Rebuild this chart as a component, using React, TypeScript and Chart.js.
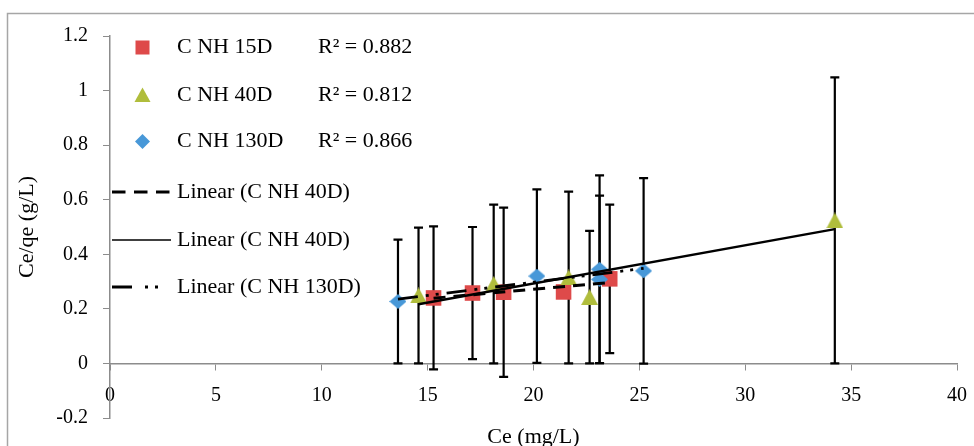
import React, { useEffect, useRef } from 'react';
import { Chart, registerables } from 'chart.js';

Chart.register(...registerables);

const FONT = '"Liberation Serif", "Times New Roman", serif';

// Axis ranges
const xMin = 0;
const xMax = 40;
const xStep = 5;
const yMin = -0.2;
const yMax = 1.2;
const yStep = 0.2;

const xTitle = 'Ce (mg/L)';
const yTitle = 'Ce/qe (g/L)';

// Series labels and fit statistics
const seriesNames = ['C NH 15D', 'C NH 40D', 'C NH 130D'];
const rSquared = ['0.882', '0.812', '0.866'];
const trendNames = ['Linear (C NH 40D)', 'Linear (C NH 40D)', 'Linear (C NH 130D)'];

// C NH 15D
const ce15 = [15.28, 17.12, 18.59, 21.42, 23.6];
const ratio15 = [0.24, 0.258, 0.261, 0.262, 0.31];
const err15 = [0.262, 0.242, 0.31, 0, 0.272];

// C NH 40D
const ce40 = [14.57, 18.12, 21.66, 22.65, 34.23];
const ratio40 = [0.249, 0.291, 0.315, 0.243, 0.524];
const err40 = [0.249, 0.291, 0.315, 0.243, 0.524];

// C NH 130D
const ce130 = [13.6, 20.16, 23.12, 23.12, 25.2];
const ratio130 = [0.227, 0.32, 0.345, 0.308, 0.339];
const err130 = [0.227, 0.318, 0.344, 0.307, 0.34];

const RED = '#de4a4a';
const OLIVE = '#b0bd3c';
const BLUE = '#4898d8';
const AXIS = '#8c8c8c';

const DASH = [12, 8];
const DASH_DOT_DOT = [20, 8, 3, 7, 3, 8];

type Pt = { x: number; y: number };

const toPoints = (xs: number[], ys: number[]): Pt[] => xs.map((x, i) => ({ x, y: ys[i] }));

// Least-squares line over the x-range of a series
function linearFit(xs: number[], ys: number[]): Pt[] {
  const n = xs.length;
  const mx = xs.reduce((a, b) => a + b, 0) / n;
  const my = ys.reduce((a, b) => a + b, 0) / n;
  let sxx = 0;
  let sxy = 0;
  for (let i = 0; i < n; i++) {
    sxx += (xs[i] - mx) * (xs[i] - mx);
    sxy += (xs[i] - mx) * (ys[i] - my);
  }
  const slope = sxy / sxx;
  const icpt = my - slope * mx;
  const lo = Math.min(...xs);
  const hi = Math.max(...xs);
  return [
    { x: lo, y: icpt + slope * lo },
    { x: hi, y: icpt + slope * hi },
  ];
}

// Marker sprites centred on their data point
function makeMarker(kind: 'triangle' | 'diamond', w: number, h: number, color: string) {
  const c = document.createElement('canvas');
  c.width = w;
  c.height = h;
  const g = c.getContext('2d')!;
  g.fillStyle = color;
  g.beginPath();
  if (kind === 'triangle') {
    g.moveTo(w / 2, 0);
    g.lineTo(w, h);
    g.lineTo(0, h);
  } else {
    g.moveTo(w / 2, 0);
    g.lineTo(w, h / 2);
    g.lineTo(w / 2, h);
    g.lineTo(0, h / 2);
  }
  g.closePath();
  g.fill();
  return c;
}

const errorSets = [
  { xs: ce15, ys: ratio15, err: err15 },
  { xs: ce40, ys: ratio40, err: err40 },
  { xs: ce130, ys: ratio130, err: err130 },
];

const framePlugin = {
  id: 'frame',
  beforeDraw(chart: any) {
    const { ctx, width, height } = chart;
    ctx.save();
    ctx.fillStyle = '#ffffff';
    ctx.fillRect(0, 0, width, height);
    ctx.strokeStyle = '#a6a6a6';
    ctx.lineWidth = 1.5;
    ctx.beginPath();
    ctx.moveTo(7.5, height);
    ctx.lineTo(7.5, 13.5);
    ctx.lineTo(width, 13.5);
    ctx.stroke();
    ctx.restore();
  },
};

const errorBarPlugin = {
  id: 'errorBars',
  beforeDatasetsDraw(chart: any) {
    const { ctx } = chart;
    const xs = chart.scales.x;
    const ys = chart.scales.y;
    ctx.save();
    ctx.strokeStyle = '#000000';
    ctx.lineWidth = 2.2;
    errorSets.forEach((set) => {
      set.xs.forEach((xv, i) => {
        const e = set.err[i];
        if (!e) return;
        const px = xs.getPixelForValue(xv);
        const top = ys.getPixelForValue(set.ys[i] + e);
        const bot = ys.getPixelForValue(set.ys[i] - e);
        ctx.beginPath();
        ctx.moveTo(px, top);
        ctx.lineTo(px, bot);
        ctx.moveTo(px - 4.5, top);
        ctx.lineTo(px + 4.5, top);
        ctx.moveTo(px - 4.5, bot);
        ctx.lineTo(px + 4.5, bot);
        ctx.stroke();
      });
    });
    ctx.restore();
  },
};

const legendPlugin = {
  id: 'inlineLegend',
  afterDraw(chart: any) {
    const { ctx, chartArea } = chart;
    ctx.save();
    ctx.font = `22px ${FONT}`;
    ctx.fillStyle = '#000000';
    ctx.textBaseline = 'middle';
    ctx.textAlign = 'left';

    const markerX = 142.5;
    const rows = [47.5, 95, 141.5];

    // square
    ctx.fillStyle = RED;
    ctx.fillRect(markerX - 7, rows[0] - 7, 14, 14);
    // triangle
    ctx.fillStyle = OLIVE;
    ctx.beginPath();
    ctx.moveTo(markerX, rows[1] - 7.5);
    ctx.lineTo(markerX + 8, rows[1] + 7);
    ctx.lineTo(markerX - 8, rows[1] + 7);
    ctx.closePath();
    ctx.fill();
    // diamond
    ctx.fillStyle = BLUE;
    ctx.beginPath();
    ctx.moveTo(markerX, rows[2] - 7.5);
    ctx.lineTo(markerX + 7.5, rows[2]);
    ctx.lineTo(markerX, rows[2] + 7.5);
    ctx.lineTo(markerX - 7.5, rows[2]);
    ctx.closePath();
    ctx.fill();

    ctx.fillStyle = '#000000';
    seriesNames.forEach((name, i) => {
      ctx.fillText(name, 177, rows[i]);
      ctx.fillText(`R\u00b2 = ${rSquared[i]}`, 318, rows[i]);
    });

    const lineRows = [192, 240, 287];
    const styles = [
      { dash: [13.5, 8.5], width: 3 },
      { dash: [], width: 1.5 },
      { dash: [20, 13, 3, 7, 3, 30], width: 3 },
    ];
    lineRows.forEach((y, i) => {
      ctx.save();
      ctx.strokeStyle = '#000000';
      ctx.lineWidth = styles[i].width;
      ctx.setLineDash(styles[i].dash);
      ctx.beginPath();
      ctx.moveTo(112, y);
      ctx.lineTo(171, y);
      ctx.stroke();
      ctx.restore();
      ctx.fillText(trendNames[i], 177, y);
    });

    // horizontal axis title
    ctx.textAlign = 'center';
    ctx.fillText(xTitle, (chartArea.left + chartArea.right) / 2, 437);
    ctx.restore();
  },
};

export default function App() {
  const canvasRef = useRef<HTMLCanvasElement | null>(null);

  useEffect(() => {
    const canvas = canvasRef.current;
    if (!canvas) return;

    const triangleSprite = makeMarker('triangle', 17, 16, OLIVE);
    const diamondSprite = makeMarker('diamond', 17, 15, BLUE);

    const chart = new Chart(canvas, {
      type: 'scatter',
      data: {
        datasets: [
          {
            label: trendNames[0],
            data: linearFit(ce15, ratio15),
            showLine: true,
            borderColor: '#000000',
            borderWidth: 3,
            borderDash: DASH,
            pointRadius: 0,
            order: 0,
          },
          {
            label: trendNames[1],
            data: linearFit(ce40, ratio40),
            showLine: true,
            borderColor: '#000000',
            borderWidth: 2.5,
            pointRadius: 0,
            order: 0,
          },
          {
            label: trendNames[2],
            data: linearFit(ce130, ratio130),
            showLine: true,
            borderColor: '#000000',
            borderWidth: 2.8,
            borderDash: DASH_DOT_DOT,
            pointRadius: 0,
            order: 0,
          },
          {
            label: seriesNames[0],
            data: toPoints(ce15, ratio15),
            pointStyle: 'rect',
            pointRadius: 11,
            backgroundColor: RED,
            borderColor: RED,
            borderWidth: 0,
            order: 3,
          },
          {
            label: seriesNames[1],
            data: toPoints(ce40, ratio40),
            pointStyle: triangleSprite,
            pointRadius: 9,
            backgroundColor: OLIVE,
            borderColor: OLIVE,
            borderWidth: 0,
            order: 2,
          },
          {
            label: seriesNames[2],
            data: toPoints(ce130, ratio130),
            pointStyle: diamondSprite,
            pointRadius: 8.5,
            backgroundColor: BLUE,
            borderColor: BLUE,
            borderWidth: 0,
            order: 1,
          },
        ],
      },
      options: {
        animation: false,
        responsive: false,
        devicePixelRatio: 1,
        layout: { padding: { left: 0, top: 36, right: 17, bottom: 28 } },
        plugins: {
          legend: { display: false },
          tooltip: { enabled: false },
        },
        scales: {
          x: {
            type: 'linear',
            position: { y: 0 } as any,
            min: xMin,
            max: xMax,
            grid: {
              drawOnChartArea: false,
              drawTicks: true,
              tickLength: 6,
              color: AXIS,
            },
            border: { display: true, color: AXIS, width: 1.5 },
            ticks: {
              stepSize: xStep,
              maxRotation: 0,
              autoSkip: false,
              padding: 14,
              color: '#000000',
              font: { family: FONT, size: 20 },
            },
            afterFit: (scale: any) => {
              scale.height = 0;
              scale.paddingLeft = 0;
              scale.paddingRight = 0;
            },
          },
          y: {
            type: 'linear',
            position: 'left',
            min: yMin,
            max: yMax,
            grid: {
              drawOnChartArea: false,
              drawTicks: true,
              tickLength: 7,
              color: AXIS,
            },
            border: { display: true, color: AXIS, width: 1.5 },
            ticks: {
              stepSize: yStep,
              padding: 15,
              color: '#000000',
              font: { family: FONT, size: 20 },
              callback: (v: any) => String(parseFloat(Number(v).toFixed(1))),
            },
            title: {
              display: true,
              text: yTitle,
              color: '#000000',
              font: { family: FONT, size: 22 },
              padding: { top: 14, bottom: 0 },
            },
            afterFit: (scale: any) => {
              scale.width = 110;
              scale.paddingTop = 0;
              scale.paddingBottom = 0;
            },
          },
        },
      },
      plugins: [framePlugin, errorBarPlugin, legendPlugin],
    });

    return () => chart.destroy();
  }, []);

  return (
    <div style={{ position: 'absolute', left: 0, top: 0, width: 974, height: 446 }}>
      <canvas ref={canvasRef} width={974} height={446} style={{ display: 'block' }} />
    </div>
  );
}
